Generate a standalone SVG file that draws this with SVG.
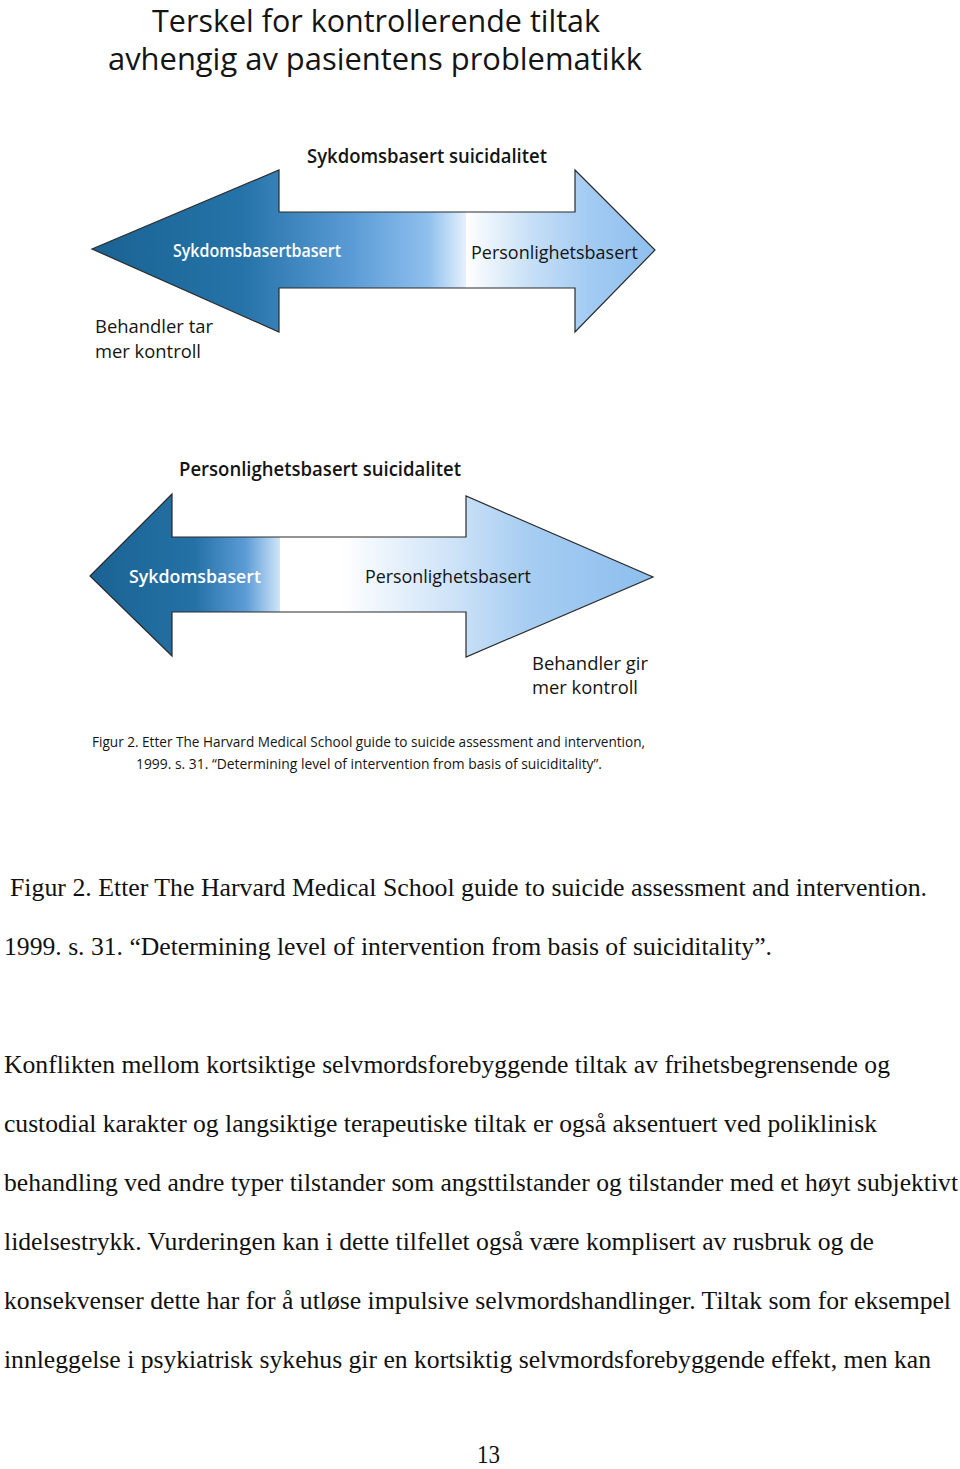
<svg xmlns="http://www.w3.org/2000/svg" width="960" height="1469" viewBox="0 0 960 1469">
<style>
.sans{font-family:"Open Sans","DejaVu Sans",sans-serif;fill:#141414}
.serif{font-family:"Liberation Serif","Times New Roman",serif;fill:#111;font-size:25px}
.lbl{font-size:19px}
.hd{font-size:19px;font-weight:600}
.wt{fill:#ffffff;font-weight:600;font-size:18px}
.outline{fill:none;stroke:#2a2a2a;stroke-width:1.2;stroke-linejoin:miter}
.cap{font-size:14px}
</style>
<defs>
<linearGradient id="gTopL" x1="92" y1="0" x2="466" y2="0" gradientUnits="userSpaceOnUse">
<stop offset="0" stop-color="#1a6393"/>
<stop offset="0.4" stop-color="#2573a8"/>
<stop offset="0.7" stop-color="#5c9cd6"/>
<stop offset="0.9" stop-color="#8fc0ee"/>
<stop offset="1" stop-color="#e6f1fc"/>
</linearGradient>
<linearGradient id="gTopR" x1="466" y1="0" x2="655" y2="0" gradientUnits="userSpaceOnUse">
<stop offset="0" stop-color="#ffffff"/>
<stop offset="0.35" stop-color="#c6dff7"/>
<stop offset="0.65" stop-color="#a3cbf2"/>
<stop offset="1" stop-color="#8ebfee"/>
</linearGradient>
<linearGradient id="gBotL" x1="90" y1="0" x2="280" y2="0" gradientUnits="userSpaceOnUse">
<stop offset="0" stop-color="#1a6393"/>
<stop offset="0.55" stop-color="#2471a6"/>
<stop offset="0.82" stop-color="#5c9cd6"/>
<stop offset="1" stop-color="#cfe5f9"/>
</linearGradient>
<linearGradient id="gBotR" x1="340" y1="0" x2="653" y2="0" gradientUnits="userSpaceOnUse">
<stop offset="0" stop-color="#ffffff"/>
<stop offset="0.35" stop-color="#cfe4f8"/>
<stop offset="0.6" stop-color="#a7cdf2"/>
<stop offset="1" stop-color="#8cbeee"/>
</linearGradient>
<clipPath id="cTop"><polygon points="92,249 279,170 279,212 575,212 575,170 655,250 575,332 575,288 279,288 279,332"/></clipPath>
<clipPath id="cBot"><polygon points="90,576 172,494 172,537 466,537 466,496 653,577 466,657 466,612 172,612 172,656"/></clipPath>
</defs>

<g id="title">
<text class="sans" x="152" y="32" font-size="31" textLength="448" lengthAdjust="spacingAndGlyphs">Terskel for kontrollerende tiltak</text>
<text class="sans" x="108" y="70" font-size="31" textLength="534" lengthAdjust="spacingAndGlyphs">avhengig av pasientens problematikk</text>
</g>

<g id="arrow-top">
<g clip-path="url(#cTop)">
<rect x="90" y="165" width="376" height="170" fill="url(#gTopL)"/>
<rect x="466" y="165" width="192" height="170" fill="url(#gTopR)"/>
</g>
<polygon class="outline" points="92,249 279,170 279,212 575,212 575,170 655,250 575,332 575,288 279,288 279,332"/>
<text class="sans hd" x="307" y="163" textLength="240" lengthAdjust="spacingAndGlyphs">Sykdomsbasert suicidalitet</text>
<text class="sans wt" x="173" y="257" textLength="168" lengthAdjust="spacingAndGlyphs">Sykdomsbasertbasert</text>
<text class="sans lbl" x="471" y="259" textLength="167" lengthAdjust="spacingAndGlyphs">Personlighetsbasert</text>
<text class="sans lbl" x="95" y="333" textLength="118" lengthAdjust="spacingAndGlyphs">Behandler tar</text>
<text class="sans lbl" x="95" y="358" textLength="106" lengthAdjust="spacingAndGlyphs">mer kontroll</text>
</g>

<g id="arrow-bottom">
<g clip-path="url(#cBot)">
<rect x="88" y="490" width="192" height="170" fill="url(#gBotL)"/>
<rect x="280" y="490" width="60" height="170" fill="#ffffff"/>
<rect x="340" y="490" width="316" height="170" fill="url(#gBotR)"/>
</g>
<polygon class="outline" points="90,576 172,494 172,537 466,537 466,496 653,577 466,657 466,612 172,612 172,656"/>
<text class="sans hd" x="179" y="476" textLength="282" lengthAdjust="spacingAndGlyphs">Personlighetsbasert suicidalitet</text>
<text class="sans wt" x="129" y="583" textLength="132" lengthAdjust="spacingAndGlyphs">Sykdomsbasert</text>
<text class="sans lbl" x="365" y="583" textLength="166" lengthAdjust="spacingAndGlyphs">Personlighetsbasert</text>
<text class="sans lbl" x="532" y="670" textLength="116" lengthAdjust="spacingAndGlyphs">Behandler gir</text>
<text class="sans lbl" x="532" y="694" textLength="106" lengthAdjust="spacingAndGlyphs">mer kontroll</text>
</g>

<g id="figure-caption">
<text class="sans cap" x="92" y="747" textLength="553" lengthAdjust="spacingAndGlyphs">Figur 2. Etter The Harvard Medical School guide to suicide assessment and intervention,</text>
<text class="sans cap" x="136" y="769" textLength="466" lengthAdjust="spacingAndGlyphs">1999. s. 31. “Determining level of intervention from basis of suiciditality”.</text>
</g>

<g id="body-text">
<text class="serif" x="10" y="896" textLength="917" lengthAdjust="spacingAndGlyphs">Figur 2.  Etter The Harvard Medical School guide to suicide assessment and intervention.</text>
<text class="serif" x="4" y="955" textLength="768" lengthAdjust="spacingAndGlyphs">1999. s. 31. “Determining level of intervention from basis of suiciditality”.</text>
<text class="serif" x="4" y="1073" textLength="886" lengthAdjust="spacingAndGlyphs">Konflikten mellom kortsiktige selvmordsforebyggende tiltak av frihetsbegrensende og</text>
<text class="serif" x="4" y="1132" textLength="873" lengthAdjust="spacingAndGlyphs">custodial karakter og langsiktige terapeutiske tiltak er også aksentuert ved poliklinisk</text>
<text class="serif" x="4" y="1191" textLength="954" lengthAdjust="spacingAndGlyphs">behandling ved andre typer tilstander som angsttilstander og tilstander med et høyt subjektivt</text>
<text class="serif" x="4" y="1250" textLength="870" lengthAdjust="spacingAndGlyphs">lidelsestrykk. Vurderingen kan i dette tilfellet også være komplisert av rusbruk og de</text>
<text class="serif" x="4" y="1309" textLength="947" lengthAdjust="spacingAndGlyphs">konsekvenser dette har for å utløse impulsive selvmordshandlinger. Tiltak som for eksempel</text>
<text class="serif" x="4" y="1368" textLength="927" lengthAdjust="spacingAndGlyphs">innleggelse i psykiatrisk sykehus gir en kortsiktig selvmordsforebyggende effekt, men kan</text>
<text class="serif" x="477" y="1463" textLength="23" lengthAdjust="spacingAndGlyphs">13</text>
</g>
</svg>
